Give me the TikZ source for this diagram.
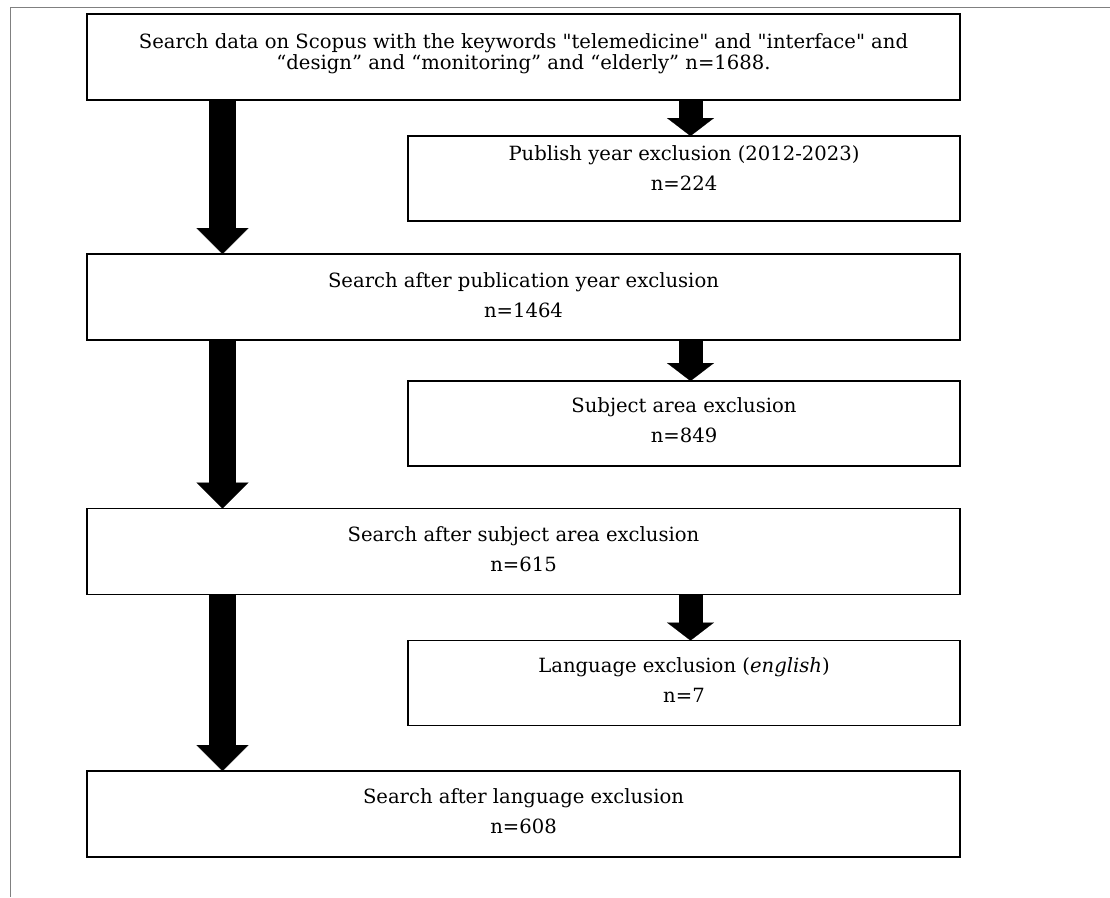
\documentclass[tikz,border=0pt]{standalone}
\usepackage{fontspec}
\setmainfont{DejaVu Serif}[Ligatures=TeXOff]
\usepackage{tikz}
\usetikzlibrary{arrows.meta}

\newcommand{\firstline}{\rule{0pt}{12pt}}

\begin{document}
\begin{tikzpicture}[x=0.75pt,y=-0.75pt,
	mainbox/.style={draw, line width=1.4pt, fill=white, minimum width=654.75pt, minimum height=64.5pt, inner sep=0pt, outer sep=0pt},
	sidebox/.style={mainbox, minimum width=414pt, minimum height=63.75pt},
	boxtext/.style={anchor=north, align=center, inner sep=0pt, font={\fontsize{14.7}{14.6}\selectfont\lineskiplimit=-20pt}},
	bigarrow/.style={line width=20.25pt, -{Triangle[width=39pt,length=19.5pt,line width=0.1pt]}},
	smallarrow/.style={line width=18pt, -{Triangle[width=35.25pt,length=13.5pt,line width=0.1pt]}}]
					\useasboundingbox (0,0) rectangle (1110,897);
					
					% Frame
					\draw[black!50, line width=0.75pt] (1110,7) -- (10,7) -- (10,897);
					
					% Search boxes
					\node[mainbox] (b1) at (523.5,57) {};
					\node[mainbox] (b2) at (523.5,297) {};
					\node[mainbox] (b3) at (523.5,551.5) {};
					\node[mainbox] (b4) at (523.5,814) {};
					
					% Exclusion boxes
					\node[sidebox] (p1) at (684,178.5) {};
					\node[sidebox] (p2) at (684,423.5) {};
					\node[sidebox] (p3) at (684,683) {};
					
					% Texts
					\node[boxtext] (t1) at (523.5,32) {\firstline Search data on Scopus with the keywords "telemedicine" and "interface" and\\[1pt]“design” and “monitoring” and “elderly” n=1688.};
					\node[boxtext] (s1) at (684,144) {\firstline Publish year exclusion (2012-2023)\\[8.3pt]n=224};
					\node[boxtext] (t2) at (523.5,271) {\firstline Search after publication year exclusion\\[8.3pt]n=1464};
					\node[boxtext] (s2) at (684,396) {\firstline Subject area exclusion\\[8.3pt]n=849};
					\node[boxtext] (t3) at (523.5,525) {\firstline Search after subject area exclusion\\[8.3pt]n=615};
					\node[boxtext] (s3) at (684,656) {\firstline Language exclusion (\textit{english})\\[8.3pt]n=7};
					\node[boxtext] (t4) at (523.5,787) {\firstline Search after language exclusion\\[8.3pt]n=608};
					
					% Arrows
					\coordinate (bigx) at (222.5,0);
					\coordinate (smallx) at (690.5,0);
					\foreach \a/\b in {b1/b2,b2/b3,b3/b4}
					\draw[bigarrow] (\a.south -| bigx) -- (\b.north -| bigx);
					\foreach \a/\b in {b1/p1,b2/p2,b3/p3}
					\draw[smallarrow] (\a.south -| smallx) -- (\b.north -| smallx);
				\end{tikzpicture}
\end{document}
